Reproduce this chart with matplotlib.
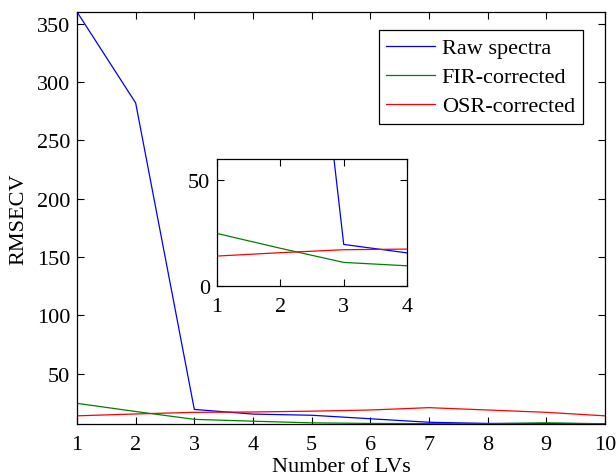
import numpy as np
import matplotlib
matplotlib.use("Agg")
import matplotlib.pyplot as plt

# ------------- Data -------------
lvs = [1, 2, 3, 4, 5, 6, 7, 8, 9, 10]
raw_spectra = [360, 282, 19.5, 15.5, 14.5, 11.5, 8.5, 7.5, 7.5, 7.2]
fir_corrected = [24.7, 17.7, 11.0, 9.4, 8.0, 7.5, 7.3, 7.2, 8.0, 7.2]
osr_corrected = [14.0, 15.6, 17.0, 17.3, 18.0, 19.0, 21.0, 19.0, 17.0, 14.0]
labels = ["Raw spectra", "FIR-corrected", "OSR-corrected"]
colors = ["#0000ff", "#008000", "#ff0000"]

plt.rcParams['font.family'] = ['Liberation Serif', 'DejaVu Serif']
FS = 16

def style_axes(ax, fs):
    ax.tick_params(direction="in", top=True, right=True, labelsize=fs, length=5, width=0.8)
    ax.tick_params(axis="x", pad=8)
    ax.tick_params(axis="y", pad=5)
    for s in ax.spines.values():
        s.set_linewidth(0.9)

fig = plt.figure(figsize=(6.16, 4.77), dpi=100)
ax = fig.add_axes([0.125, 0.109, 0.857, 0.864])
series = [raw_spectra, fir_corrected, osr_corrected]
for ys, lab, c in zip(series, labels, colors):
    ax.plot(lvs, ys, color=c, lw=0.9, label=lab)
ax.set_xlim(1, 10)
ax.set_ylim(7, 360)
ax.set_xticks(lvs)
ax.set_yticks([50, 100, 150, 200, 250, 300, 350])
ax.set_xlabel("Number of LVs", fontsize=FS, labelpad=2)
ax.set_ylabel("RMSECV", fontsize=FS, labelpad=6)
style_axes(ax, FS)
leg = ax.legend(loc="upper right", bbox_to_anchor=(0.958, 0.956), fontsize=FS,
                fancybox=False, edgecolor="black", framealpha=1,
                handlelength=2.2, labelspacing=0.38, borderpad=0.35, handletextpad=0.3,
                borderaxespad=0)
leg.get_frame().set_linewidth(0.9)

# inset zoom on the first LVs
ins = fig.add_axes([0.352, 0.399, 0.309, 0.266])
for ys, c in zip(series, colors):
    ins.plot(lvs, ys, color=c, lw=0.9)
ins.set_xlim(1, 4)
ins.set_ylim(0, 60)
ins.set_xticks([1, 2, 3, 4])
ins.set_yticks([0, 50])
style_axes(ins, FS)

fig.savefig("out.png", dpi=100)
